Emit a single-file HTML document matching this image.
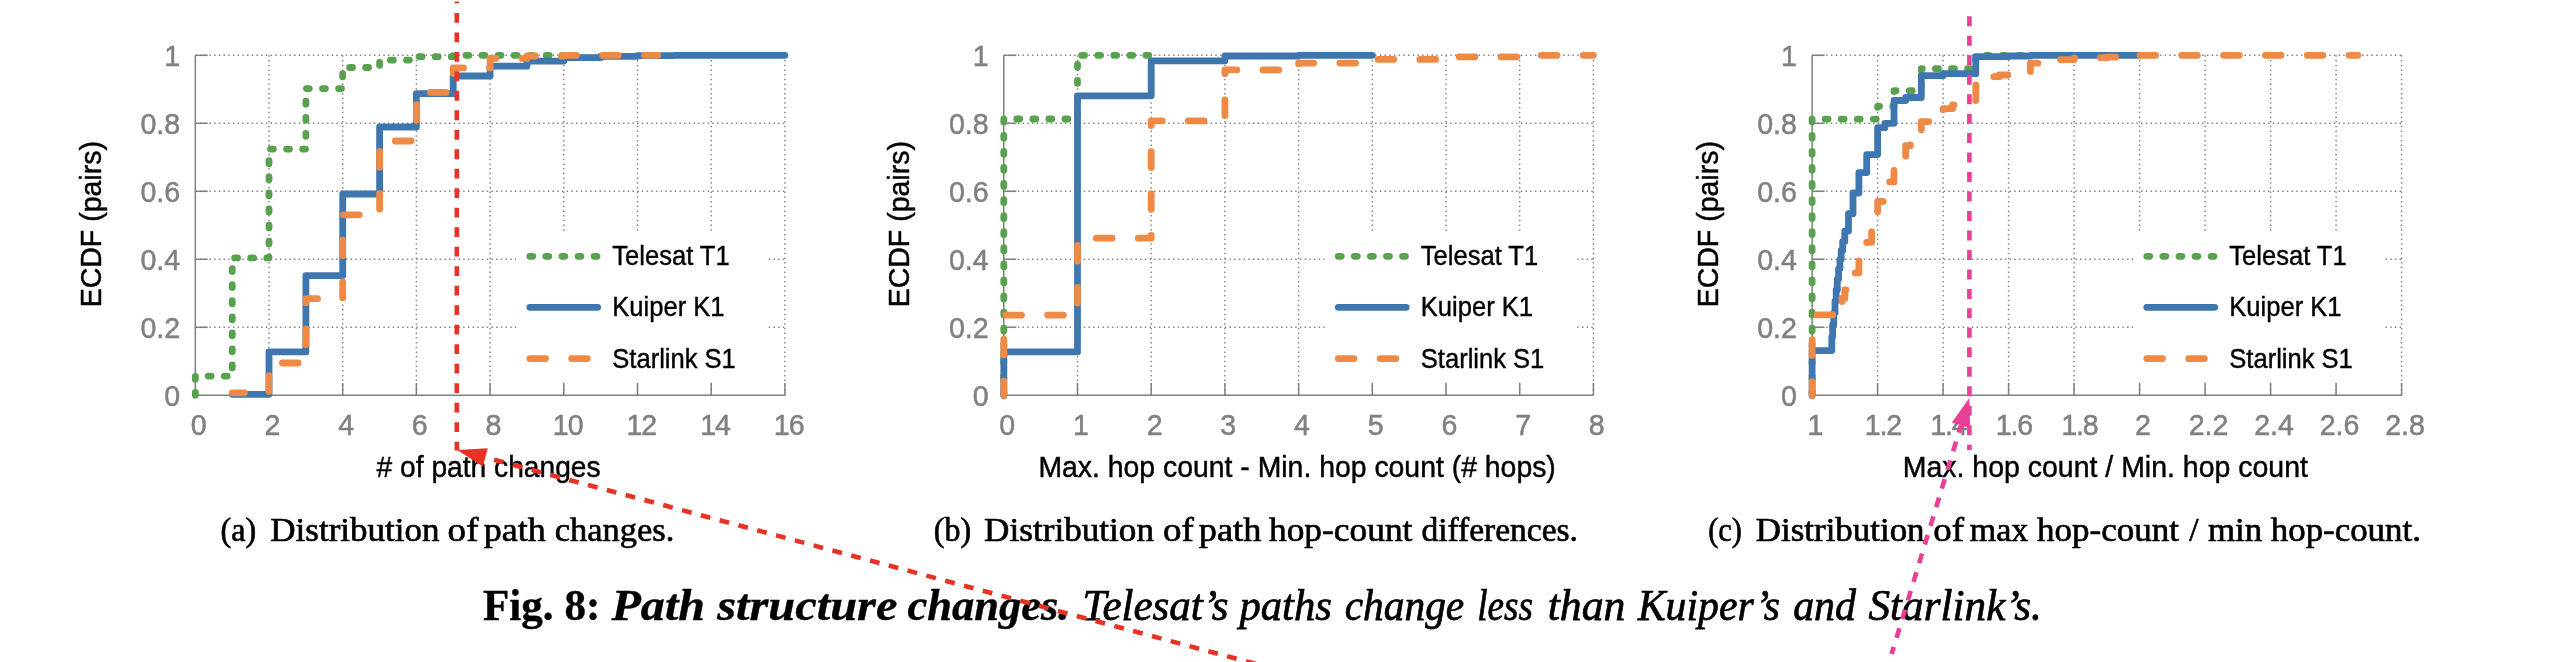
<!DOCTYPE html>
<html><head><meta charset="utf-8"><title>Fig. 8</title>
<style>html,body{margin:0;padding:0;background:#fff;}svg{display:block;will-change:transform;}</style></head>
<body>
<svg width="2566" height="662" viewBox="0 0 2566 662" font-family="'Liberation Sans', sans-serif">
<rect width="2566" height="662" fill="#fff"/>
<g stroke="#868686" stroke-width="1.45" stroke-dasharray="1.5 3.2" fill="none"><line x1="195.3" y1="327.3" x2="784.9" y2="327.3"/><line x1="195.3" y1="259.3" x2="784.9" y2="259.3"/><line x1="195.3" y1="191.3" x2="784.9" y2="191.3"/><line x1="195.3" y1="123.3" x2="784.9" y2="123.3"/><line x1="195.3" y1="55.3" x2="784.9" y2="55.3"/><line x1="269.0" y1="55.3" x2="269.0" y2="395.3"/><line x1="342.7" y1="55.3" x2="342.7" y2="395.3"/><line x1="416.4" y1="55.3" x2="416.4" y2="395.3"/><line x1="490.1" y1="55.3" x2="490.1" y2="395.3"/><line x1="563.8" y1="55.3" x2="563.8" y2="395.3"/><line x1="637.5" y1="55.3" x2="637.5" y2="395.3"/><line x1="711.2" y1="55.3" x2="711.2" y2="395.3"/><line x1="784.9" y1="55.3" x2="784.9" y2="395.3"/></g>
<rect x="516.3" y="232" width="251.5" height="152.5" fill="#fff"/>
<g stroke="#808080" stroke-width="1.5" fill="none"><path d="M195.3,55.3 V395.3 H784.9"/><line x1="195.3" y1="327.3" x2="207.8" y2="327.3"/><line x1="195.3" y1="259.3" x2="207.8" y2="259.3"/><line x1="195.3" y1="191.3" x2="207.8" y2="191.3"/><line x1="195.3" y1="123.3" x2="207.8" y2="123.3"/><line x1="195.3" y1="55.3" x2="207.8" y2="55.3"/><line x1="269.0" y1="395.3" x2="269.0" y2="382.8"/><line x1="342.7" y1="395.3" x2="342.7" y2="382.8"/><line x1="416.4" y1="395.3" x2="416.4" y2="382.8"/><line x1="490.1" y1="395.3" x2="490.1" y2="382.8"/><line x1="563.8" y1="395.3" x2="563.8" y2="382.8"/><line x1="637.5" y1="395.3" x2="637.5" y2="382.8"/><line x1="711.2" y1="395.3" x2="711.2" y2="382.8"/><line x1="784.9" y1="395.3" x2="784.9" y2="382.8"/></g>
<g fill="#808080" stroke="#808080" stroke-width="0.5" font-size="30.3"><text transform="translate(180.1,406.2) scale(0.943,1)" text-anchor="end">0</text><text transform="translate(180.1,338.2) scale(0.943,1)" text-anchor="end">0.2</text><text transform="translate(180.1,270.2) scale(0.943,1)" text-anchor="end">0.4</text><text transform="translate(180.1,202.2) scale(0.943,1)" text-anchor="end">0.6</text><text transform="translate(180.1,134.2) scale(0.943,1)" text-anchor="end">0.8</text><text transform="translate(180.1,66.2) scale(0.943,1)" text-anchor="end">1</text><text transform="translate(198.7,435.4) scale(0.943,1)" text-anchor="middle">0</text><text transform="translate(272.4,435.4) scale(0.943,1)" text-anchor="middle">2</text><text transform="translate(346.1,435.4) scale(0.943,1)" text-anchor="middle">4</text><text transform="translate(419.8,435.4) scale(0.943,1)" text-anchor="middle">6</text><text transform="translate(493.5,435.4) scale(0.943,1)" text-anchor="middle">8</text><text transform="translate(567.2,435.4) scale(0.943,1)" text-anchor="middle"><tspan dx="1.0">1</tspan><tspan dx="-1.0">0</tspan></text><text transform="translate(640.9,435.4) scale(0.943,1)" text-anchor="middle"><tspan dx="1.0">1</tspan><tspan dx="-1.0">2</tspan></text><text transform="translate(714.6,435.4) scale(0.943,1)" text-anchor="middle"><tspan dx="1.0">1</tspan><tspan dx="-1.0">4</tspan></text><text transform="translate(788.3,435.4) scale(0.943,1)" text-anchor="middle"><tspan dx="1.0">1</tspan><tspan dx="-1.0">6</tspan></text></g>
<text transform="translate(488.6,477.0) scale(0.9364,1)" text-anchor="middle" font-size="30.1" stroke="#000" stroke-width="0.45"># of path changes</text>
<text transform="translate(100.7,224.2) rotate(-90) scale(0.9463,1)" text-anchor="middle" font-size="30.1" stroke="#000" stroke-width="0.45">ECDF (pairs)</text>
<path d="M195.3,395.3 L195.3,395.3 L195.3,376.1 L232.2,376.1 L232.2,257.9 L269.0,257.9 L269.0,149.1 L305.9,149.1 L305.9,88.6 L342.7,88.6 L342.7,67.5 L379.6,67.5 L379.6,60.1 L416.4,60.1 L416.4,56.7 L453.2,56.7 L453.2,55.3 L563.8,55.3 L563.8,55.3" fill="none" stroke="#58A14E" stroke-width="6.8" stroke-linecap="round" stroke-linejoin="round" stroke-dasharray="2.9 13.17" stroke-dashoffset="0"/>
<path d="M232.2,394.3 L269.0,394.3 L269.0,351.9 L305.9,351.9 L305.9,275.6 L342.7,275.6 L342.7,194.0 L379.6,194.0 L379.6,127.0 L416.4,127.0 L416.4,93.7 L453.2,93.7 L453.2,76.0 L490.1,76.0 L490.1,66.2 L527.0,66.2 L527.0,61.1 L563.8,61.1 L563.8,57.7 L600.7,57.7 L600.7,56.3 L637.5,56.3 L637.5,55.6 L674.4,55.6 L674.4,55.3 L784.9,55.3 L784.9,55.3" fill="none" stroke="#3E76AF" stroke-width="6.8" stroke-linecap="round" stroke-linejoin="round"/>
<path d="M232.2,392.9 L269.0,392.9 L269.0,363.0 L305.9,363.0 L305.9,298.7 L342.7,298.7 L342.7,214.8 L379.6,214.8 L379.6,141.0 L416.4,141.0 L416.4,92.4 L453.2,92.4 L453.2,67.9 L490.1,67.9 L490.1,58.4 L527.0,58.4 L527.0,56.0 L563.8,56.0 L563.8,55.3 L657.8,55.3 L657.8,55.3" fill="none" stroke="#EE8A45" stroke-width="6.8" stroke-linecap="round" stroke-linejoin="round" stroke-dasharray="15.7 26.16" stroke-dashoffset="3.6"/>
<line x1="529.8" y1="256.3" x2="597.7" y2="256.3" stroke="#58A14E" stroke-width="6.8" stroke-linecap="round" stroke-dasharray="2.9 13.17"/>
<text transform="translate(612.3,265.3) scale(0.943,1)" font-size="27.1" stroke="#000" stroke-width="0.4">Telesat T1</text>
<line x1="529.8" y1="307.3" x2="597.7" y2="307.3" stroke="#3E76AF" stroke-width="6.8" stroke-linecap="round"/>
<text transform="translate(612.3,316.3) scale(0.943,1)" font-size="27.1" stroke="#000" stroke-width="0.4">Kuiper K1</text>
<line x1="529.8" y1="358.6" x2="597.7" y2="358.6" stroke="#EE8A45" stroke-width="6.8" stroke-linecap="round" stroke-dasharray="15.7 26.16"/>
<text transform="translate(612.3,367.6) scale(0.943,1)" font-size="27.1" stroke="#000" stroke-width="0.4">Starlink S1</text>
<g stroke="#868686" stroke-width="1.45" stroke-dasharray="1.5 3.2" fill="none"><line x1="1003.8" y1="327.3" x2="1593.4" y2="327.3"/><line x1="1003.8" y1="259.3" x2="1593.4" y2="259.3"/><line x1="1003.8" y1="191.3" x2="1593.4" y2="191.3"/><line x1="1003.8" y1="123.3" x2="1593.4" y2="123.3"/><line x1="1003.8" y1="55.3" x2="1593.4" y2="55.3"/><line x1="1077.5" y1="55.3" x2="1077.5" y2="395.3"/><line x1="1151.2" y1="55.3" x2="1151.2" y2="395.3"/><line x1="1224.9" y1="55.3" x2="1224.9" y2="395.3"/><line x1="1298.6" y1="55.3" x2="1298.6" y2="395.3"/><line x1="1372.3" y1="55.3" x2="1372.3" y2="395.3"/><line x1="1446.0" y1="55.3" x2="1446.0" y2="395.3"/><line x1="1519.7" y1="55.3" x2="1519.7" y2="395.3"/><line x1="1593.4" y1="55.3" x2="1593.4" y2="395.3"/></g>
<rect x="1324.8" y="232" width="251.5" height="152.5" fill="#fff"/>
<g stroke="#808080" stroke-width="1.5" fill="none"><path d="M1003.8,55.3 V395.3 H1593.4"/><line x1="1003.8" y1="327.3" x2="1016.3" y2="327.3"/><line x1="1003.8" y1="259.3" x2="1016.3" y2="259.3"/><line x1="1003.8" y1="191.3" x2="1016.3" y2="191.3"/><line x1="1003.8" y1="123.3" x2="1016.3" y2="123.3"/><line x1="1003.8" y1="55.3" x2="1016.3" y2="55.3"/><line x1="1077.5" y1="395.3" x2="1077.5" y2="382.8"/><line x1="1151.2" y1="395.3" x2="1151.2" y2="382.8"/><line x1="1224.9" y1="395.3" x2="1224.9" y2="382.8"/><line x1="1298.6" y1="395.3" x2="1298.6" y2="382.8"/><line x1="1372.3" y1="395.3" x2="1372.3" y2="382.8"/><line x1="1446.0" y1="395.3" x2="1446.0" y2="382.8"/><line x1="1519.7" y1="395.3" x2="1519.7" y2="382.8"/><line x1="1593.4" y1="395.3" x2="1593.4" y2="382.8"/></g>
<g fill="#808080" stroke="#808080" stroke-width="0.5" font-size="30.3"><text transform="translate(988.6,406.2) scale(0.943,1)" text-anchor="end">0</text><text transform="translate(988.6,338.2) scale(0.943,1)" text-anchor="end">0.2</text><text transform="translate(988.6,270.2) scale(0.943,1)" text-anchor="end">0.4</text><text transform="translate(988.6,202.2) scale(0.943,1)" text-anchor="end">0.6</text><text transform="translate(988.6,134.2) scale(0.943,1)" text-anchor="end">0.8</text><text transform="translate(988.6,66.2) scale(0.943,1)" text-anchor="end">1</text><text transform="translate(1007.2,435.4) scale(0.943,1)" text-anchor="middle">0</text><text transform="translate(1080.9,435.4) scale(0.943,1)" text-anchor="middle">1</text><text transform="translate(1154.6,435.4) scale(0.943,1)" text-anchor="middle">2</text><text transform="translate(1228.3,435.4) scale(0.943,1)" text-anchor="middle">3</text><text transform="translate(1302.0,435.4) scale(0.943,1)" text-anchor="middle">4</text><text transform="translate(1375.7,435.4) scale(0.943,1)" text-anchor="middle">5</text><text transform="translate(1449.4,435.4) scale(0.943,1)" text-anchor="middle">6</text><text transform="translate(1523.1,435.4) scale(0.943,1)" text-anchor="middle">7</text><text transform="translate(1596.8,435.4) scale(0.943,1)" text-anchor="middle">8</text></g>
<text transform="translate(1297.1,477.0) scale(0.9430,1)" text-anchor="middle" font-size="30.1" stroke="#000" stroke-width="0.45">Max. hop count - Min. hop count (# hops)</text>
<text transform="translate(909.2,224.2) rotate(-90) scale(0.9463,1)" text-anchor="middle" font-size="30.1" stroke="#000" stroke-width="0.45">ECDF (pairs)</text>
<path d="M1003.8,395.3 L1003.8,395.3 L1003.8,119.0 L1077.5,119.0 L1077.5,55.3 L1151.2,55.3 L1151.2,55.3" fill="none" stroke="#58A14E" stroke-width="6.8" stroke-linecap="round" stroke-linejoin="round" stroke-dasharray="2.9 13.17" stroke-dashoffset="0"/>
<path d="M1003.8,395.3 L1003.8,395.3 L1003.8,351.9 L1077.5,351.9 L1077.5,95.8 L1151.2,95.8 L1151.2,60.9 L1224.9,60.9 L1224.9,56.0 L1298.6,56.0 L1298.6,55.3 L1372.3,55.3 L1372.3,55.3" fill="none" stroke="#3E76AF" stroke-width="6.8" stroke-linecap="round" stroke-linejoin="round"/>
<path d="M1003.8,395.3 L1003.8,395.3 L1003.8,315.1 L1077.5,315.1 L1077.5,238.2 L1151.2,238.2 L1151.2,120.9 L1224.9,120.9 L1224.9,69.9 L1298.6,69.9 L1298.6,63.1 L1372.3,63.1 L1372.3,59.4 L1446.0,59.4 L1446.0,56.8 L1519.7,56.8 L1519.7,55.3 L1593.4,55.3 L1593.4,55.3" fill="none" stroke="#EE8A45" stroke-width="6.8" stroke-linecap="round" stroke-linejoin="round" stroke-dasharray="15.7 26.16" stroke-dashoffset="1.5"/>
<line x1="1338.3" y1="256.3" x2="1406.2" y2="256.3" stroke="#58A14E" stroke-width="6.8" stroke-linecap="round" stroke-dasharray="2.9 13.17"/>
<text transform="translate(1420.8,265.3) scale(0.943,1)" font-size="27.1" stroke="#000" stroke-width="0.4">Telesat T1</text>
<line x1="1338.3" y1="307.3" x2="1406.2" y2="307.3" stroke="#3E76AF" stroke-width="6.8" stroke-linecap="round"/>
<text transform="translate(1420.8,316.3) scale(0.943,1)" font-size="27.1" stroke="#000" stroke-width="0.4">Kuiper K1</text>
<line x1="1338.3" y1="358.6" x2="1406.2" y2="358.6" stroke="#EE8A45" stroke-width="6.8" stroke-linecap="round" stroke-dasharray="15.7 26.16"/>
<text transform="translate(1420.8,367.6) scale(0.943,1)" font-size="27.1" stroke="#000" stroke-width="0.4">Starlink S1</text>
<g stroke="#868686" stroke-width="1.45" stroke-dasharray="1.5 3.2" fill="none"><line x1="1812.1" y1="327.3" x2="2401.6" y2="327.3"/><line x1="1812.1" y1="259.3" x2="2401.6" y2="259.3"/><line x1="1812.1" y1="191.3" x2="2401.6" y2="191.3"/><line x1="1812.1" y1="123.3" x2="2401.6" y2="123.3"/><line x1="1812.1" y1="55.3" x2="2401.6" y2="55.3"/><line x1="1877.6" y1="55.3" x2="1877.6" y2="395.3"/><line x1="1943.1" y1="55.3" x2="1943.1" y2="395.3"/><line x1="2008.6" y1="55.3" x2="2008.6" y2="395.3"/><line x1="2074.1" y1="55.3" x2="2074.1" y2="395.3"/><line x1="2139.6" y1="55.3" x2="2139.6" y2="395.3"/><line x1="2205.1" y1="55.3" x2="2205.1" y2="395.3"/><line x1="2270.6" y1="55.3" x2="2270.6" y2="395.3"/><line x1="2336.1" y1="55.3" x2="2336.1" y2="395.3"/><line x1="2401.6" y1="55.3" x2="2401.6" y2="395.3"/></g>
<rect x="2133.3" y="232" width="251.5" height="152.5" fill="#fff"/>
<g stroke="#808080" stroke-width="1.5" fill="none"><path d="M1812.1,55.3 V395.3 H2401.6"/><line x1="1812.1" y1="327.3" x2="1824.6" y2="327.3"/><line x1="1812.1" y1="259.3" x2="1824.6" y2="259.3"/><line x1="1812.1" y1="191.3" x2="1824.6" y2="191.3"/><line x1="1812.1" y1="123.3" x2="1824.6" y2="123.3"/><line x1="1812.1" y1="55.3" x2="1824.6" y2="55.3"/><line x1="1877.6" y1="395.3" x2="1877.6" y2="382.8"/><line x1="1943.1" y1="395.3" x2="1943.1" y2="382.8"/><line x1="2008.6" y1="395.3" x2="2008.6" y2="382.8"/><line x1="2074.1" y1="395.3" x2="2074.1" y2="382.8"/><line x1="2139.6" y1="395.3" x2="2139.6" y2="382.8"/><line x1="2205.1" y1="395.3" x2="2205.1" y2="382.8"/><line x1="2270.6" y1="395.3" x2="2270.6" y2="382.8"/><line x1="2336.1" y1="395.3" x2="2336.1" y2="382.8"/><line x1="2401.6" y1="395.3" x2="2401.6" y2="382.8"/></g>
<g fill="#808080" stroke="#808080" stroke-width="0.5" font-size="30.3"><text transform="translate(1796.9,406.2) scale(0.943,1)" text-anchor="end">0</text><text transform="translate(1796.9,338.2) scale(0.943,1)" text-anchor="end">0.2</text><text transform="translate(1796.9,270.2) scale(0.943,1)" text-anchor="end">0.4</text><text transform="translate(1796.9,202.2) scale(0.943,1)" text-anchor="end">0.6</text><text transform="translate(1796.9,134.2) scale(0.943,1)" text-anchor="end">0.8</text><text transform="translate(1796.9,66.2) scale(0.943,1)" text-anchor="end">1</text><text transform="translate(1815.5,435.4) scale(0.943,1)" text-anchor="middle">1</text><text transform="translate(1881.0,435.4) scale(0.943,1)" text-anchor="middle"><tspan dx="2.6">1</tspan><tspan dx="-1.2">.</tspan><tspan dx="-1.4">2</tspan></text><text transform="translate(1946.5,435.4) scale(0.943,1)" text-anchor="middle"><tspan dx="2.6">1</tspan><tspan dx="-1.2">.</tspan><tspan dx="-1.4">4</tspan></text><text transform="translate(2012.0,435.4) scale(0.943,1)" text-anchor="middle"><tspan dx="2.6">1</tspan><tspan dx="-1.2">.</tspan><tspan dx="-1.4">6</tspan></text><text transform="translate(2077.5,435.4) scale(0.943,1)" text-anchor="middle"><tspan dx="2.6">1</tspan><tspan dx="-1.2">.</tspan><tspan dx="-1.4">8</tspan></text><text transform="translate(2143.0,435.4) scale(0.943,1)" text-anchor="middle">2</text><text transform="translate(2208.5,435.4) scale(0.943,1)" text-anchor="middle">2.2</text><text transform="translate(2274.0,435.4) scale(0.943,1)" text-anchor="middle">2.4</text><text transform="translate(2339.5,435.4) scale(0.943,1)" text-anchor="middle">2.6</text><text transform="translate(2405.0,435.4) scale(0.943,1)" text-anchor="middle">2.8</text></g>
<text transform="translate(2105.3,477.0) scale(0.9463,1)" text-anchor="middle" font-size="30.1" stroke="#000" stroke-width="0.45">Max. hop count / Min. hop count</text>
<text transform="translate(1717.5,224.2) rotate(-90) scale(0.9463,1)" text-anchor="middle" font-size="30.1" stroke="#000" stroke-width="0.45">ECDF (pairs)</text>
<path d="M1812.1,395.3 L1812.1,395.3 L1812.1,119.1 L1877.6,119.1 L1877.6,106.3 L1894.0,106.3 L1894.0,90.7 L1921.3,90.7 L1921.3,68.7 L1975.8,68.7 L1975.8,55.3 L2030.5,55.3 L2030.5,55.3" fill="none" stroke="#58A14E" stroke-width="6.8" stroke-linecap="round" stroke-linejoin="round" stroke-dasharray="2.9 13.17" stroke-dashoffset="0"/>
<path d="M1812.1,395.3 L1812.1,395.3 L1812.1,350.6 L1831.8,350.6 L1831.8,336.8 L1832.6,336.8 L1832.6,324.9 L1833.7,324.9 L1833.7,313.0 L1835.0,313.0 L1835.0,301.1 L1836.2,301.1 L1836.2,289.9 L1837.3,289.9 L1837.3,279.0 L1838.6,279.0 L1838.6,268.8 L1839.9,268.8 L1839.9,259.3 L1841.2,259.3 L1841.2,250.5 L1842.7,250.5 L1842.7,241.6 L1844.8,241.6 L1844.8,231.1 L1848.5,231.1 L1848.5,213.7 L1853.0,213.7 L1853.0,193.0 L1858.9,193.0 L1858.9,172.6 L1866.7,172.6 L1866.7,154.6 L1877.6,154.6 L1877.6,127.7 L1884.9,127.7 L1884.9,123.3 L1894.0,123.3 L1894.0,100.5 L1905.7,100.5 L1905.7,97.5 L1921.3,97.5 L1921.3,75.7 L1943.1,75.7 L1943.1,73.7 L1975.8,73.7 L1975.8,56.7 L2008.6,56.7 L2008.6,56.0 L2030.4,56.0 L2030.4,55.3 L2139.6,55.3 L2139.6,55.3" fill="none" stroke="#3E76AF" stroke-width="6.8" stroke-linecap="round" stroke-linejoin="round"/>
<path d="M1812.1,395.3 L1812.1,314.9" fill="none" stroke="#EE8A45" stroke-width="6.8" stroke-linecap="round" stroke-linejoin="round" stroke-dasharray="15.7 26.16" stroke-dashoffset="2"/>
<path d="M1812.1,314.9 L1832.6,314.9 L1832.6,312.0 L1834.5,312.0 L1832.6,312.0 L1837.3,312.0 L1837.3,306.2 L1841.9,306.2 L1841.9,298.4 L1844.8,298.4 L1844.8,289.9 L1848.5,289.9 L1848.5,283.1 L1853.0,283.1 L1853.0,272.9 L1858.9,272.9 L1858.9,257.6 L1866.7,257.6 L1866.7,242.3 L1871.6,242.3 L1871.6,228.7 L1877.6,228.7 L1877.6,201.5 L1884.9,201.5 L1884.9,198.1 L1887.7,198.1 L1887.7,181.9 L1894.0,181.9 L1894.0,168.3 L1901.4,168.3 L1901.4,157.3 L1905.7,157.3 L1905.7,145.7 L1910.3,145.7 L1910.3,143.7 L1921.3,143.7 L1921.3,121.6 L1943.1,121.6 L1943.1,108.7 L1952.5,108.7 L1952.5,104.9 L1957.6,104.9 L1957.6,101.9 L1975.8,101.9 L1975.8,80.8 L1988.5,80.8 L1988.5,76.7 L1999.2,76.7 L1999.2,75.0 L2008.6,75.0 L2008.6,73.8 L2016.8,73.8 L2016.8,73.0 L2030.4,73.0 L2030.4,63.2 L2041.3,63.2 L2041.3,61.8 L2057.7,61.8 L2057.7,59.6 L2074.1,59.6 L2074.1,58.2 L2085.0,58.2 L2085.0,57.7 L2106.8,57.7 L2106.8,57.2 L2139.6,57.2 L2139.6,55.3 L2357.9,55.3 L2357.9,55.3" fill="none" stroke="#EE8A45" stroke-width="6.8" stroke-linecap="round" stroke-linejoin="round" stroke-dasharray="15.7 26.16" stroke-dashoffset="36.76"/>
<line x1="2146.8" y1="256.3" x2="2214.7" y2="256.3" stroke="#58A14E" stroke-width="6.8" stroke-linecap="round" stroke-dasharray="2.9 13.17"/>
<text transform="translate(2229.3,265.3) scale(0.943,1)" font-size="27.1" stroke="#000" stroke-width="0.4">Telesat T1</text>
<line x1="2146.8" y1="307.3" x2="2214.7" y2="307.3" stroke="#3E76AF" stroke-width="6.8" stroke-linecap="round"/>
<text transform="translate(2229.3,316.3) scale(0.943,1)" font-size="27.1" stroke="#000" stroke-width="0.4">Kuiper K1</text>
<line x1="2146.8" y1="358.6" x2="2214.7" y2="358.6" stroke="#EE8A45" stroke-width="6.8" stroke-linecap="round" stroke-dasharray="15.7 26.16"/>
<text transform="translate(2229.3,367.6) scale(0.943,1)" font-size="27.1" stroke="#000" stroke-width="0.4">Starlink S1</text>
<text x="220.6" y="540.9" font-size="33.5" textLength="35.7" lengthAdjust="spacingAndGlyphs" font-family="'Liberation Serif', serif" stroke="#000" stroke-width="0.65">(a)</text>
<text x="270.3" y="540.9" font-size="33.5" textLength="169.2" lengthAdjust="spacingAndGlyphs" font-family="'Liberation Serif', serif" stroke="#000" stroke-width="0.65">Distribution</text>
<text x="447.6" y="540.9" font-size="33.5" textLength="30.9" lengthAdjust="spacingAndGlyphs" font-family="'Liberation Serif', serif" stroke="#000" stroke-width="0.65">of</text>
<text x="483.7" y="540.9" font-size="33.5" textLength="62.0" lengthAdjust="spacingAndGlyphs" font-family="'Liberation Serif', serif" stroke="#000" stroke-width="0.65">path</text>
<text x="554.8" y="540.9" font-size="33.5" textLength="119.5" lengthAdjust="spacingAndGlyphs" font-family="'Liberation Serif', serif" stroke="#000" stroke-width="0.65">changes.</text>
<text x="933.8" y="540.9" font-size="33.5" textLength="37.4" lengthAdjust="spacingAndGlyphs" font-family="'Liberation Serif', serif" stroke="#000" stroke-width="0.65">(b)</text>
<text x="984.1" y="540.9" font-size="33.5" textLength="169.9" lengthAdjust="spacingAndGlyphs" font-family="'Liberation Serif', serif" stroke="#000" stroke-width="0.65">Distribution</text>
<text x="1163.0" y="540.9" font-size="33.5" textLength="30.8" lengthAdjust="spacingAndGlyphs" font-family="'Liberation Serif', serif" stroke="#000" stroke-width="0.65">of</text>
<text x="1198.8" y="540.9" font-size="33.5" textLength="62.5" lengthAdjust="spacingAndGlyphs" font-family="'Liberation Serif', serif" stroke="#000" stroke-width="0.65">path</text>
<text x="1269.0" y="540.9" font-size="33.5" textLength="143.4" lengthAdjust="spacingAndGlyphs" font-family="'Liberation Serif', serif" stroke="#000" stroke-width="0.65">hop-count</text>
<text x="1421.4" y="540.9" font-size="33.5" textLength="156.6" lengthAdjust="spacingAndGlyphs" font-family="'Liberation Serif', serif" stroke="#000" stroke-width="0.65">differences.</text>
<text x="1708.2" y="540.9" font-size="33.5" textLength="33.7" lengthAdjust="spacingAndGlyphs" font-family="'Liberation Serif', serif" stroke="#000" stroke-width="0.65">(c)</text>
<text x="1755.8" y="540.9" font-size="33.5" textLength="168.8" lengthAdjust="spacingAndGlyphs" font-family="'Liberation Serif', serif" stroke="#000" stroke-width="0.65">Distribution</text>
<text x="1933.3" y="540.9" font-size="33.5" textLength="30.8" lengthAdjust="spacingAndGlyphs" font-family="'Liberation Serif', serif" stroke="#000" stroke-width="0.65">of</text>
<text x="1969.8" y="540.9" font-size="33.5" textLength="58.6" lengthAdjust="spacingAndGlyphs" font-family="'Liberation Serif', serif" stroke="#000" stroke-width="0.65">max</text>
<text x="2037.0" y="540.9" font-size="33.5" textLength="141.9" lengthAdjust="spacingAndGlyphs" font-family="'Liberation Serif', serif" stroke="#000" stroke-width="0.65">hop-count</text>
<text x="2189.2" y="540.9" font-size="33.5" font-family="'Liberation Serif', serif" stroke="#000" stroke-width="0.65">/</text>
<text x="2208.0" y="540.9" font-size="33.5" textLength="54.2" lengthAdjust="spacingAndGlyphs" font-family="'Liberation Serif', serif" stroke="#000" stroke-width="0.65">min</text>
<text x="2270.8" y="540.9" font-size="33.5" textLength="150.1" lengthAdjust="spacingAndGlyphs" font-family="'Liberation Serif', serif" stroke="#000" stroke-width="0.65">hop-count.</text>
<text x="483.0" y="620" font-size="45" textLength="117.3" lengthAdjust="spacingAndGlyphs" font-family="'Liberation Serif', serif" font-weight="bold" stroke="#000" stroke-width="0.4">Fig. 8:</text>
<text x="611.5" y="620" font-size="45" textLength="93.5" lengthAdjust="spacingAndGlyphs" font-family="'Liberation Serif', serif" font-weight="bold" font-style="italic" stroke="#000" stroke-width="0.4">Path</text>
<text x="717.2" y="620" font-size="45" textLength="180.2" lengthAdjust="spacingAndGlyphs" font-family="'Liberation Serif', serif" font-weight="bold" font-style="italic" stroke="#000" stroke-width="0.4">structure</text>
<text x="907.4" y="620" font-size="45" textLength="162.1" lengthAdjust="spacingAndGlyphs" font-family="'Liberation Serif', serif" font-weight="bold" font-style="italic" stroke="#000" stroke-width="0.4">changes.</text>
<text x="1082.4" y="620" font-size="45" textLength="146.0" lengthAdjust="spacingAndGlyphs" font-family="'Liberation Serif', serif" font-style="italic" stroke="#000" stroke-width="0.75">Telesat’s</text>
<text x="1239.4" y="620" font-size="45" textLength="92.6" lengthAdjust="spacingAndGlyphs" font-family="'Liberation Serif', serif" font-style="italic" stroke="#000" stroke-width="0.75">paths</text>
<text x="1344.7" y="620" font-size="45" textLength="119.5" lengthAdjust="spacingAndGlyphs" font-family="'Liberation Serif', serif" font-style="italic" stroke="#000" stroke-width="0.75">change</text>
<text x="1477.3" y="620" font-size="45" textLength="55.7" lengthAdjust="spacingAndGlyphs" font-family="'Liberation Serif', serif" font-style="italic" stroke="#000" stroke-width="0.75">less</text>
<text x="1547.7" y="620" font-size="45" textLength="77.8" lengthAdjust="spacingAndGlyphs" font-family="'Liberation Serif', serif" font-style="italic" stroke="#000" stroke-width="0.75">than</text>
<text x="1637.7" y="620" font-size="45" textLength="142.3" lengthAdjust="spacingAndGlyphs" font-family="'Liberation Serif', serif" font-style="italic" stroke="#000" stroke-width="0.75">Kuiper’s</text>
<text x="1793.2" y="620" font-size="45" textLength="62.8" lengthAdjust="spacingAndGlyphs" font-family="'Liberation Serif', serif" font-style="italic" stroke="#000" stroke-width="0.75">and</text>
<text x="1868.5" y="620" font-size="45" textLength="173.3" lengthAdjust="spacingAndGlyphs" font-family="'Liberation Serif', serif" font-style="italic" stroke="#000" stroke-width="0.75">Starlink’s.</text>
<path d="M456.8,1.6 V450.5" stroke="#E73323" stroke-width="4.6" stroke-dasharray="9.8 9.69" stroke-dashoffset="8.19" fill="none"/>
<path d="M483.38,456.89 L1270.0,667.7" stroke="#E73323" stroke-width="4.6" stroke-dasharray="9.8 9.66" stroke-dashoffset="8.39" fill="none"/>
<polygon points="457.3,449.9 482.9,466.5 487.7,448.3" fill="#E73323"/>
<path d="M1969.4,16.3 V450" stroke="#E93F97" stroke-width="4.6" stroke-dasharray="10 9.47" fill="none"/>
<path d="M1961,425.4 L1891.6,654" stroke="#E93F97" stroke-width="4.6" stroke-dasharray="10 9.5" stroke-dashoffset="2.5" fill="none"/>
<polygon points="1969.3,398.0 1951.9,422.5 1970.1,428.0" fill="#E93F97"/>
</svg>
</body></html>
